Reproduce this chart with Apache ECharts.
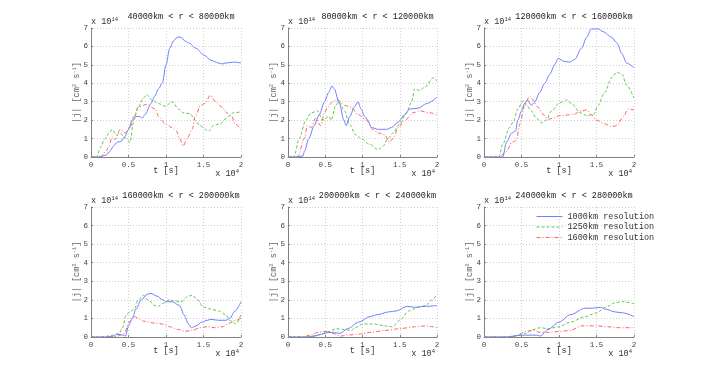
<!DOCTYPE html>
<html>
<head>
<meta charset="utf-8">
<script src="https://cdn.jsdelivr.net/npm/echarts@6/dist/echarts.min.js"></script>
<style>
  body { margin: 0; background: #fff; }
  #chart { width: 701px; height: 378px; }
</style>
</head>
<body>
<div id="chart"></div>
<script>
// panel titles and legend names
const panelTitles = [
  '40000km < r < 80000km', '80000km < r < 120000km', '120000km < r < 160000km',
  '160000km < r < 200000km', '200000km < r < 240000km', '240000km < r < 280000km'
]
const seriesNames = ['1000km resolution', '1250km resolution', '1600km resolution']
const xTicks = [0, 0.5, 1, 1.5, 2]
const yTicks = [0, 1, 2, 3, 4, 5, 6, 7]

// [t (x10^4 s), |j| (x10^14)]
const b1 = [[0,0],[0.1,0],[0.15,0.05],[0.2,0.1],[0.25,0.3],[0.3,0.6],[0.35,0.8],[0.4,0.85],[0.45,1.1],[0.5,1.5],[0.55,2.0],[0.6,2.2],[0.65,2.2],[0.68,2.1],[0.72,2.3],[0.8,2.9],[0.85,3.3],[0.9,3.7],[0.95,4.0],[1.0,5.0],[1.05,5.9],[1.1,6.3],[1.15,6.5],[1.2,6.5],[1.25,6.3],[1.3,6.2],[1.4,5.9],[1.5,5.55],[1.6,5.25],[1.7,5.1],[1.75,5.05],[1.8,5.1],[1.9,5.15],[2.0,5.1]]
const g1 = [[0,0],[0.08,0],[0.12,0.5],[0.19,1.0],[0.24,1.3],[0.28,1.5],[0.34,1.2],[0.38,1.3],[0.43,1.15],[0.47,1.0],[0.52,0.8],[0.57,2.0],[0.63,2.7],[0.7,3.2],[0.74,3.4],[0.81,3.1],[0.9,2.9],[0.99,2.75],[1.08,3.0],[1.17,2.6],[1.23,2.4],[1.32,2.35],[1.39,2.0],[1.45,1.7],[1.57,1.4],[1.63,1.7],[1.72,1.8],[1.83,2.2],[1.9,2.4],[2.0,2.45]]
const r1 = [[0,0],[0.12,0],[0.2,0.3],[0.24,0.6],[0.28,1.1],[0.32,0.95],[0.39,1.5],[0.45,1.3],[0.52,1.6],[0.57,2.2],[0.63,2.7],[0.74,2.85],[0.86,2.6],[0.9,2.2],[0.99,1.8],[1.08,1.6],[1.14,1.4],[1.18,1.0],[1.23,0.6],[1.28,1.0],[1.35,1.5],[1.39,2.2],[1.46,2.8],[1.52,2.9],[1.59,3.35],[1.66,3.0],[1.75,2.7],[1.81,2.4],[1.88,2.2],[1.92,1.8],[2.0,1.5]]

const b2 = [[0,0],[0.1,0],[0.2,0.05],[0.22,0.3],[0.28,1.0],[0.35,1.7],[0.42,2.3],[0.49,3.0],[0.545,3.5],[0.59,3.85],[0.62,3.7],[0.69,2.9],[0.75,2.0],[0.78,1.7],[0.83,2.2],[0.89,2.7],[0.94,3.0],[0.98,2.6],[1.03,2.2],[1.07,2.0],[1.12,1.6],[1.21,1.5],[1.32,1.5],[1.39,1.6],[1.48,1.9],[1.57,2.3],[1.63,2.6],[1.75,2.65],[1.86,2.9],[2.0,3.25]]
const g2 = [[0,0],[0.08,0],[0.15,1.0],[0.24,2.0],[0.31,2.4],[0.4,2.5],[0.46,2.0],[0.55,2.2],[0.58,2.0],[0.64,2.8],[0.68,3.0],[0.76,2.5],[0.82,1.8],[0.91,1.2],[0.98,1.0],[1.09,0.7],[1.21,0.4],[1.28,0.6],[1.34,1.0],[1.41,1.3],[1.5,1.8],[1.59,2.4],[1.66,3.0],[1.7,3.7],[1.77,3.6],[1.84,3.8],[1.95,4.3],[2.0,4.1]]
const r2 = [[0,0],[0.13,0],[0.22,1.0],[0.26,1.7],[0.31,1.6],[0.37,2.1],[0.44,1.7],[0.49,2.4],[0.53,2.7],[0.6,3.0],[0.67,3.1],[0.76,2.8],[0.85,2.7],[0.94,2.3],[1.05,2.0],[1.14,1.5],[1.21,1.3],[1.3,1.2],[1.36,0.8],[1.41,1.0],[1.48,1.6],[1.56,1.95],[1.68,2.4],[1.77,2.5],[1.9,2.4],[2.0,2.3]]

const b3 = [[0,0],[0.25,0],[0.3,0.8],[0.37,1.3],[0.42,1.4],[0.45,2.0],[0.5,2.5],[0.54,2.9],[0.58,3.1],[0.63,2.8],[0.68,3.0],[0.74,3.5],[0.81,4.0],[0.88,4.5],[0.94,5.0],[0.99,5.35],[1.06,5.2],[1.14,5.15],[1.21,5.3],[1.3,5.9],[1.37,6.5],[1.43,6.95],[1.52,6.95],[1.59,6.8],[1.7,6.5],[1.77,6.2],[1.84,5.6],[1.9,5.1],[2.0,4.85]]
const g3 = [[0,0],[0.2,0],[0.25,0.7],[0.34,1.6],[0.39,1.9],[0.45,2.6],[0.52,3.05],[0.57,2.8],[0.63,2.5],[0.7,2.1],[0.77,1.85],[0.83,2.0],[0.9,2.5],[1.01,2.95],[1.1,3.1],[1.17,2.9],[1.28,2.4],[1.37,2.25],[1.46,2.3],[1.52,2.8],[1.61,3.5],[1.7,4.3],[1.77,4.6],[1.84,4.5],[1.9,3.9],[2.0,3.2]]
const r3 = [[0,0],[0.2,0],[0.3,0.3],[0.37,0.8],[0.43,0.9],[0.48,1.8],[0.54,2.8],[0.61,3.3],[0.65,3.1],[0.72,2.7],[0.79,2.3],[0.86,2.05],[0.92,2.1],[1.01,2.25],[1.19,2.3],[1.3,2.5],[1.37,2.55],[1.43,2.3],[1.5,2.0],[1.61,1.8],[1.7,1.65],[1.77,1.7],[1.86,2.2],[1.92,2.6],[2.0,2.55]]

const b4 = [[0,0],[0.2,0],[0.3,0.05],[0.35,0.15],[0.43,0.1],[0.46,0.05],[0.5,0.6],[0.55,1.0],[0.6,1.5],[0.67,2.0],[0.75,2.3],[0.8,2.35],[0.88,2.2],[0.96,2.0],[1.0,1.9],[1.08,1.9],[1.18,1.7],[1.24,1.2],[1.3,0.7],[1.34,0.5],[1.4,0.6],[1.48,0.8],[1.55,0.9],[1.6,0.95],[1.7,0.9],[1.8,0.9],[1.85,1.0],[1.92,1.4],[2.0,1.9]]
const g4 = [[0,0],[0.15,0],[0.3,0.1],[0.38,0.2],[0.42,0.5],[0.47,1.2],[0.52,1.35],[0.58,1.5],[0.63,2.0],[0.7,2.25],[0.76,2.0],[0.85,1.7],[0.9,1.65],[0.95,1.8],[1.05,2.0],[1.1,1.95],[1.2,1.9],[1.3,2.2],[1.35,2.25],[1.42,2.0],[1.5,1.6],[1.6,1.5],[1.7,1.4],[1.8,1.2],[1.85,0.9],[1.93,0.7],[2.0,1.2]]
const r4 = [[0,0],[0.3,0],[0.35,0.05],[0.45,0.2],[0.5,0.8],[0.58,1.1],[0.63,1.0],[0.7,0.85],[0.85,0.75],[0.95,0.7],[1.05,0.55],[1.17,0.4],[1.25,0.3],[1.35,0.35],[1.45,0.5],[1.55,0.55],[1.65,0.5],[1.75,0.55],[1.85,0.75],[1.93,0.9],[2.0,1.0]]

const b5 = [[0,0],[0.25,0],[0.35,0.05],[0.45,0.15],[0.55,0.25],[0.7,0.2],[0.8,0.45],[0.95,0.8],[1.1,1.1],[1.2,1.2],[1.35,1.35],[1.45,1.4],[1.6,1.65],[1.7,1.6],[1.85,1.65],[2.0,1.7]]
const g5 = [[0,0],[0.3,0],[0.4,0.1],[0.55,0.3],[0.65,0.45],[0.75,0.4],[0.85,0.35],[0.9,0.5],[1.0,0.7],[1.15,0.7],[1.3,0.6],[1.4,0.55],[1.5,0.9],[1.62,1.4],[1.75,1.6],[1.85,1.7],[1.93,2.0],[2.0,2.3]]
const r5 = [[0,0],[0.2,0],[0.3,0.1],[0.4,0.25],[0.5,0.3],[0.6,0.2],[0.7,0.05],[0.8,0.1],[0.95,0.15],[1.1,0.25],[1.3,0.35],[1.5,0.45],[1.7,0.55],[1.85,0.6],[1.95,0.55],[2.0,0.5]]

const b6 = [[0,0],[0.3,0],[0.4,0.05],[0.5,0.1],[0.7,0.1],[0.75,0.05],[0.85,0.4],[1.0,0.8],[1.15,1.2],[1.35,1.55],[1.45,1.55],[1.55,1.6],[1.62,1.5],[1.75,1.35],[1.85,1.3],[2.0,1.1]]
const g6 = [[0,0],[0.3,0],[0.4,0.05],[0.55,0.2],[0.65,0.4],[0.75,0.5],[0.85,0.45],[1.0,0.55],[1.15,0.8],[1.35,1.1],[1.5,1.3],[1.62,1.6],[1.75,1.85],[1.85,1.9],[2.0,1.8]]
const r6 = [[0,0],[0.35,0],[0.45,0.1],[0.55,0.3],[0.65,0.35],[0.75,0.25],[0.85,0.25],[1.0,0.3],[1.15,0.35],[1.3,0.6],[1.5,0.6],[1.65,0.55],[1.8,0.5],[2.0,0.5]]

const panelData = [[b1, g1, r1], [b2, g2, r2], [b3, g3, r3], [b4, g4, r4], [b5, g5, r5], [b6, g6, r6]]

const MONO = '"Liberation Mono", "DejaVu Sans Mono", monospace'
const colors = ['#6f7fff', '#5cc84a', '#ff6060']
const dashes = ['solid', [3, 2], [4, 2, 1, 2]]

// plot boxes (pixels)
const boxes = [
  { left: 91, top: 28, width: 150, height: 129 },
  { left: 288, top: 28, width: 149, height: 129 },
  { left: 484, top: 28, width: 150, height: 129 },
  { left: 91, top: 207, width: 150, height: 130 },
  { left: 288, top: 207, width: 149, height: 130 },
  { left: 484, top: 207, width: 150, height: 130 }
]

const sup = { fontSize: 5.5, verticalAlign: 'top', padding: [0, 0, 4, 0], fontFamily: MONO, fill: '#333' }

const grid = [], xAxis = [], yAxis = [], series = [], graphic = []
boxes.forEach((b, i) => {
  grid.push(Object.assign({}, b))
  xAxis.push({
    gridIndex: i, type: 'value', min: xTicks[0], max: xTicks[xTicks.length - 1], interval: 0.5,
    axisLine: { onZero: false, lineStyle: { color: '#808080', width: 1 } },
    axisTick: { inside: true, length: 2, lineStyle: { color: '#808080' } },
    axisLabel: { color: '#444', fontFamily: MONO, fontSize: 7.5, margin: 4 },
    splitLine: { lineStyle: { color: '#d0d0d0', type: [1, 2] } }
  })
  yAxis.push({
    gridIndex: i, type: 'value', min: yTicks[0], max: yTicks[yTicks.length - 1], interval: 1,
    axisLine: { show: true, onZero: false, lineStyle: { color: '#808080', width: 1 } },
    axisTick: { show: true, inside: true, length: 2, lineStyle: { color: '#808080' } },
    axisLabel: { color: '#444', fontFamily: MONO, fontSize: 7.5, margin: 3 },
    splitLine: { lineStyle: { color: '#d0d0d0', type: [1, 2] } }
  })
  panelData[i].forEach((d, k) => {
    series.push({
      name: seriesNames[k], type: 'line', xAxisIndex: i, yAxisIndex: i,
      data: d, symbol: 'none', smooth: 0.3, smoothMonotone: 'x',
      lineStyle: { color: colors[k], width: 1, type: dashes[k] },
      itemStyle: { color: colors[k] }, z: 3 - k
    })
  })
  // title
  graphic.push({
    type: 'text', x: b.left + b.width / 2 + 15, y: b.top - 11,
    style: { text: panelTitles[i], font: '8.5px ' + MONO, fill: '#222', align: 'center', verticalAlign: 'middle' }
  })
  // x 10^14
  graphic.push({
    type: 'text', x: b.left, y: b.top - 1,
    style: { text: 'x 10{s|14}', font: '8.5px ' + MONO, fill: '#333', align: 'left', verticalAlign: 'bottom', rich: { s: sup } }
  })
  // t [s]
  graphic.push({
    type: 'text', x: b.left + b.width / 2, y: b.top + b.height + 14,
    style: { text: 't [s]', font: '8.5px ' + MONO, fill: '#333', align: 'center', verticalAlign: 'middle' }
  })
  // x 10^4
  graphic.push({
    type: 'text', x: b.left + b.width - 2, y: b.top + b.height + 17,
    style: { text: 'x 10{s|4}', font: '8.5px ' + MONO, fill: '#333', align: 'right', verticalAlign: 'middle', rich: { s: sup } }
  })
  // y label
  graphic.push({
    type: 'text', x: b.left - 14, y: b.top + b.height / 2, rotation: Math.PI / 2,
    style: {
      text: '|j| [cm{s|2} s{s|-1}]', font: '8.5px ' + MONO, fill: '#666', align: 'center', verticalAlign: 'middle',
      rich: { s: Object.assign({}, sup, { fill: '#666' }) }
    }
  })
})

const chart = echarts.init(document.getElementById('chart'))
chart.setOption({
  backgroundColor: '#fff',
  animation: false,
  grid: grid,
  xAxis: xAxis,
  yAxis: yAxis,
  series: series,
  graphic: graphic,
  legend: {
    data: seriesNames, orient: 'vertical', left: 536, top: 212,
    itemWidth: 26, itemHeight: 6, itemGap: 1.5, padding: 0,
    itemStyle: { opacity: 0 },
    lineStyle: { width: 1 },
    textStyle: { fontFamily: MONO, fontSize: 8.5, color: '#333', lineHeight: 7 }
  }
})
</script>
</body>
</html>
